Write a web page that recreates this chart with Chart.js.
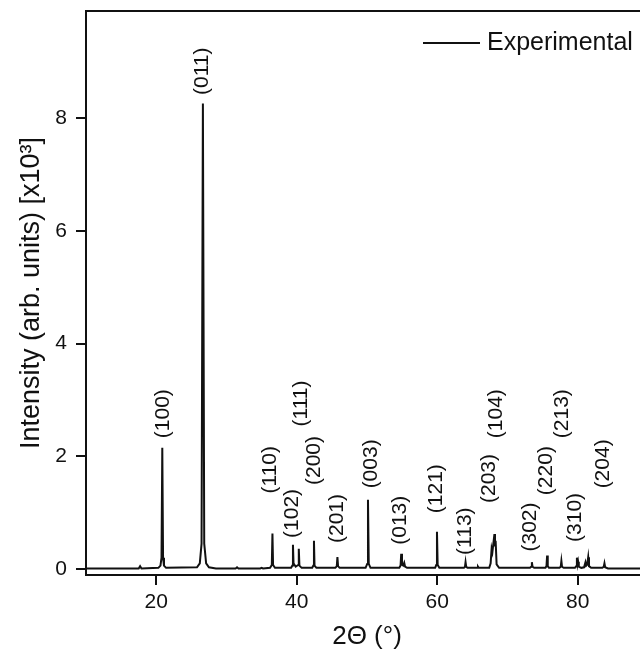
<!DOCTYPE html>
<html>
<head>
<meta charset="utf-8">
<script src="https://cdn.jsdelivr.net/npm/chart.js@4.4.0/dist/chart.umd.min.js"></script>
<style>
  html, body { margin: 0; padding: 0; background: #fff; overflow: hidden; }
  canvas { display: block; }
</style>
</head>
<body>
<canvas id="xrdChart" width="648" height="651"></canvas>
<script>
// diffraction trace: 2-theta (deg) and intensity (x10^3 counts)
const twoTheta = [
  10.0, 17.5, 17.7, 17.9,
  20.3, 20.6, 20.75, 20.86, 20.97, 21.1, 21.4,
  25.8, 26.2, 26.45, 26.64, 26.83, 27.1, 27.5, 28.5,
  31.3, 31.5, 31.7, 34.8, 35.0, 35.2,
  36.2, 36.45, 36.54, 36.63, 36.9,
  39.2, 39.38, 39.46, 39.54, 39.85, 40.2, 40.29, 40.38, 40.7,
  42.2, 42.37, 42.45, 42.53, 42.8,
  45.5, 45.7, 45.79, 45.88, 46.1,
  49.8, 50.03, 50.14, 50.25, 50.5,
  54.6, 54.78, 54.87, 54.98, 55.15, 55.3, 55.42, 55.7,
  59.7, 59.86, 59.96, 60.06, 60.3,
  63.8, 63.95, 64.03, 64.12, 64.3, 65.7, 65.8, 65.9,
  67.4, 67.6, 67.74, 67.85, 68.14, 68.22, 68.31, 68.45, 68.8,
  73.2, 73.38, 73.47, 73.56, 73.8,
  75.4, 75.55, 75.64, 75.73, 75.9,
  77.4, 77.58, 77.67, 77.76, 78.0,
  79.6, 79.78, 79.88, 79.97, 80.05, 80.15, 80.5,
  80.9, 81.1, 81.2, 81.35, 81.49, 81.6, 81.9,
  83.5, 83.7, 83.8, 83.9, 84.3, 90.0
];
const intensity = [
  0.01, 0.01, 0.05, 0.01,
  0.02, 0.06, 0.2, 2.15, 0.2, 0.06, 0.02,
  0.03, 0.1, 0.45, 8.26, 0.45, 0.1, 0.03, 0.01,
  0.01, 0.03, 0.01, 0.01, 0.02, 0.01,
  0.02, 0.07, 0.63, 0.07, 0.02,
  0.02, 0.06, 0.43, 0.1, 0.04, 0.07, 0.36, 0.06, 0.02,
  0.02, 0.06, 0.5, 0.06, 0.02,
  0.02, 0.05, 0.21, 0.05, 0.02,
  0.02, 0.09, 1.23, 0.09, 0.02,
  0.02, 0.06, 0.27, 0.08, 0.06, 0.11, 0.04, 0.02,
  0.02, 0.07, 0.66, 0.07, 0.02,
  0.02, 0.04, 0.12, 0.04, 0.02, 0.02, 0.04, 0.02,
  0.02, 0.1, 0.36, 0.3, 0.62, 0.4, 0.5, 0.08, 0.02,
  0.02, 0.04, 0.12, 0.04, 0.02,
  0.02, 0.05, 0.24, 0.05, 0.02,
  0.02, 0.04, 0.14, 0.04, 0.02,
  0.02, 0.05, 0.2, 0.08, 0.13, 0.04, 0.02,
  0.03, 0.12, 0.06, 0.08, 0.21, 0.05, 0.02,
  0.02, 0.04, 0.1, 0.03, 0.01, 0.01
];

// Miller indices and where each one is written (2-theta, intensity at text start)
const peakLabels = ["(100)", "(011)", "(110)", "(102)", "(111)", "(200)", "(201)", "(003)", "(013)",
  "(121)", "(113)", "(203)", "(104)", "(302)", "(220)", "(213)", "(310)", "(204)"];
const labelTheta = [20.96, 26.61, 36.29, 39.42, 40.70, 42.50, 45.77, 50.53, 54.70,
  59.92, 64.05, 67.41, 68.46, 73.20, 75.58, 77.72, 79.61, 83.64];
const labelBase = [2.32, 8.41, 1.34, 0.55, 2.53, 1.49, 0.46, 1.43, 0.43,
  0.99, 0.25, 1.17, 2.32, 0.31, 1.31, 2.32, 0.48, 1.43];

const xTicks = [20, 40, 60, 80];
const yTicks = [0, 2, 4, 6, 8];

const FONT = "'Liberation Sans', Arial, sans-serif";
const INK = "#111";

const peakLabelPlugin = {
  id: "peakLabels",
  afterDatasetsDraw(chart) {
    const { ctx, scales: { x, y } } = chart;
    ctx.save();
    ctx.font = `21px ${FONT}`;
    ctx.fillStyle = INK;
    ctx.textAlign = "left";
    ctx.textBaseline = "middle";
    peakLabels.forEach((text, i) => {
      ctx.save();
      ctx.translate(x.getPixelForValue(labelTheta[i]), y.getPixelForValue(labelBase[i]));
      ctx.rotate(-Math.PI / 2);
      ctx.fillText(text, 0, 0);
      ctx.restore();
    });
    ctx.restore();
  }
};

// top edge of the frame plus the single-entry key in the upper right
const frameAndKeyPlugin = {
  id: "frameAndKey",
  afterDraw(chart) {
    const { ctx, chartArea: { left, right, top } } = chart;
    ctx.save();
    ctx.strokeStyle = INK;
    ctx.lineWidth = 2;
    ctx.beginPath();
    ctx.moveTo(left - 1, top);
    ctx.lineTo(right, top);
    ctx.stroke();

    const keyY = top + 32;
    ctx.beginPath();
    ctx.moveTo(right - 225, keyY);
    ctx.lineTo(right - 168, keyY);
    ctx.stroke();
    ctx.font = `25px ${FONT}`;
    ctx.fillStyle = INK;
    ctx.textBaseline = "middle";
    ctx.fillText(chart.data.datasets[0].label, right - 161, keyY);
    ctx.restore();
  }
};

// fixed axis sizes, no extra room for edge labels
function fixSize(prop, size) {
  return (scale) => {
    scale[prop] = size;
    scale.paddingTop = 0;
    scale.paddingBottom = 0;
    scale.paddingLeft = 0;
    scale.paddingRight = 0;
  };
}

new Chart(document.getElementById("xrdChart").getContext("2d"), {
  type: "line",
  data: {
    datasets: [{
      label: "Experimental",
      data: twoTheta.map((t, i) => ({ x: t, y: intensity[i] })),
      borderColor: INK,
      borderWidth: 2,
      pointRadius: 0,
      tension: 0,
      fill: false
    }]
  },
  options: {
    responsive: false,
    animation: false,
    layout: { padding: { top: 11, right: 0, left: 0, bottom: 0 } },
    plugins: {
      legend: { display: false },
      tooltip: { enabled: false }
    },
    scales: {
      x: {
        type: "linear",
        min: 10,
        max: 90,
        afterFit: fixSize("height", 76),
        afterBuildTicks: (scale) => { scale.ticks = xTicks.map(v => ({ value: v })); },
        ticks: { color: INK, padding: 7, font: { family: FONT, size: 21, lineHeight: 1 } },
        grid: { drawOnChartArea: false, drawTicks: true, tickLength: 10, color: INK, lineWidth: 2 },
        border: { color: INK, width: 2 },
        title: {
          display: true,
          text: "2Θ (°)",
          color: INK,
          font: { family: FONT, size: 26, lineHeight: 1 },
          padding: { top: 0, bottom: 1 }
        }
      },
      y: {
        min: -0.107,
        max: 9.9,
        afterFit: fixSize("width", 86),
        afterBuildTicks: (scale) => { scale.ticks = yTicks.map(v => ({ value: v })); },
        ticks: { color: INK, padding: 9, font: { family: FONT, size: 21, lineHeight: 1 } },
        grid: { drawOnChartArea: false, drawTicks: true, tickLength: 10, color: INK, lineWidth: 2 },
        border: { color: INK, width: 2 },
        title: {
          display: true,
          text: "Intensity (arb. units) [x10³]",
          color: INK,
          font: { family: FONT, size: 27, lineHeight: 1 },
          padding: { top: 18, bottom: 0 }
        }
      }
    }
  },
  plugins: [peakLabelPlugin, frameAndKeyPlugin]
});
</script>
</body>
</html>
